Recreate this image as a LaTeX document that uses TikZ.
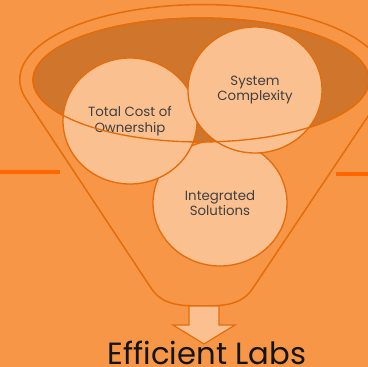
\documentclass[tikz,border=0pt]{standalone}
\usepackage{fontspec}
\setmainfont{Poppins}
\usetikzlibrary{shapes.geometric}

\definecolor{bgorange}{RGB}{247,150,70}
\definecolor{rimorange}{RGB}{228,108,10}
\definecolor{mouthorange}{RGB}{208,118,44}
\definecolor{ballorange}{RGB}{250,192,144}
\definecolor{barorange}{RGB}{255,102,0}
\definecolor{labelgray}{RGB}{64,64,64}

\tikzset{every picture/.style={line width=0.75pt}}

\begin{document}
\begin{tikzpicture}[x=0.75pt,y=0.75pt,yscale=-1,xscale=1,
  ball/.style={ellipse, draw=rimorange, fill=ballorange, line width=1pt, minimum width=100.5pt, minimum height=94.5pt, inner sep=0pt, align=center, text=labelgray, font=\fontsize{10}{11.5}\selectfont}]
%set diagram left start at 0, and has height of 367
\fill [bgorange] (0,0) rectangle (368,367) ;
\useasboundingbox (0,0) rectangle (368,367) ;

%Straight Lines [id:bar_left] 
\draw [color=barorange ,line width=2.4pt ]   (0,172) -- (60,172) ;
%Straight Lines [id:bar_right] 
\draw [color=barorange ,line width=2.4pt ]   (336,174) -- (368,174) ;

%Shape: Funnel [id:funnel] 
\draw [color=rimorange ,line width=1.1pt ]  (151,288) -- (26,99) arc [start angle=165, end angle=375, x radius=183, y radius=75] -- (253,288) .. controls (242,305) and (224,306) .. (202,306) .. controls (180,306) and (162,305) .. (151,288) -- cycle ;
%Shape: Ellipse [id:mouth] 
\draw [color=rimorange ,fill=mouthorange ,line width=1pt ]  (201,80) ellipse [x radius=168, y radius=62] ;

% Text Node
\node [ball] (solutions) at (220,203) {Integrated\\Solutions};
% Text Node
\node [ball] (cost) at (130,121) {Total Cost of\\Ownership};
% Text Node
\node [ball] (complexity) at (255,90) {System\\Complexity};

%Shape: Ellipse [id:mouth_front] 
\draw [color=rimorange ,line width=1pt ]  (201,80) ellipse [x radius=168, y radius=62] ;

%Shape: Down Arrow [id:arrow] 
\draw [color=rimorange ,fill=ballorange ,line width=0.9pt ]  (189,306) -- (219,306) -- (219,325) -- (235,325) -- (204,344) -- (173,325) -- (189,325) -- cycle ;

% Text Node
\node [anchor=base ,inner sep=0pt ,text={rgb,255:red,20;green,20;blue,20} ,font=\fontsize{23}{27}\selectfont ] (labs) at (207,364) {Efficient Labs};

\end{tikzpicture}
\end{document}
